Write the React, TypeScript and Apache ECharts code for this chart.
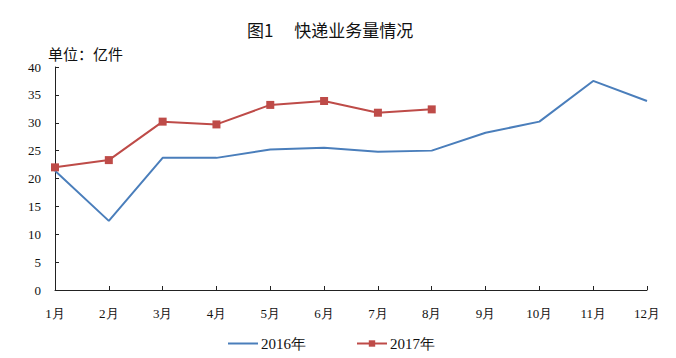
import React, { useEffect, useRef } from "react";
import * as echarts from "echarts";

const months = ["1月", "2月", "3月", "4月", "5月", "6月", "7月", "8月", "9月", "10月", "11月", "12月"];
const data2016 = [21.4, 12.4, 23.7, 23.7, 25.2, 25.5, 24.8, 25.0, 28.2, 30.2, 37.5, 33.9];
const data2017 = [22.0, 23.3, 30.2, 29.7, 33.2, 33.9, 31.8, 32.4];
const yTicks = { min: 0, max: 40, interval: 5 };

export default function App() {
  const ref = useRef<HTMLDivElement>(null);
  useEffect(() => {
    if (!ref.current) return;
    const chart = echarts.init(ref.current, null, { renderer: "svg" });
    const serif = "'Liberation Serif', 'Times New Roman', serif";
    const cjk = "'Noto Sans CJK SC', sans-serif";
    chart.setOption({
      animation: false,
      backgroundColor: "#ffffff",
      title: {
        text: "图1　 快递业务量情况",
        left: 234,
        top: 8,
        textStyle: { fontFamily: cjk, fontSize: 17, fontWeight: "normal", color: "#111" },
      },
      graphic: [
        {
          type: "text",
          left: 40,
          top: 38,
          style: { text: "单位：亿件", font: "15px 'Noto Sans CJK SC', sans-serif", fill: "#111" },
        },
      ],
      legend: {
        top: 323,
        left: 214,
        itemWidth: 30,
        itemHeight: 8,
        itemGap: 50,
        textStyle: { fontFamily: serif, fontSize: 15, color: "#111", padding: [0, 0, 0, -2] },
        data: [
          { name: "2016年", itemStyle: { opacity: 0 } },
          { name: "2017年" },
        ],
      },
      grid: { left: 47, right: 21, top: 59, bottom: 68 },
      xAxis: {
        type: "category",
        data: months,
        boundaryGap: false,
        axisLine: { lineStyle: { color: "#222", width: 1 } },
        axisTick: { inside: true, length: 4, lineStyle: { color: "#222" } },
        axisLabel: { fontFamily: serif, fontSize: 13, color: "#111", margin: 17 },
      },
      yAxis: {
        type: "value",
        min: yTicks.min,
        max: yTicks.max,
        interval: yTicks.interval,
        axisLine: { show: true, lineStyle: { color: "#222", width: 1 } },
        axisTick: { show: true, inside: true, length: 4, lineStyle: { color: "#222" } },
        splitLine: { show: false },
        axisLabel: { fontFamily: serif, fontSize: 13, color: "#111", margin: 14 },
      },
      series: [
        {
          name: "2016年",
          type: "line",
          data: data2016,
          symbol: "none",
          lineStyle: { color: "#4A7EBB", width: 2 },
          itemStyle: { color: "#4A7EBB" },
        },
        {
          name: "2017年",
          type: "line",
          data: data2017,
          symbol: "rect",
          symbolSize: 8,
          lineStyle: { color: "#BE4B48", width: 2 },
          itemStyle: { color: "#BE4B48" },
        },
      ],
    });
    return () => chart.dispose();
  }, []);
  return <div ref={ref} style={{ width: 660, height: 350 }} />;
}
